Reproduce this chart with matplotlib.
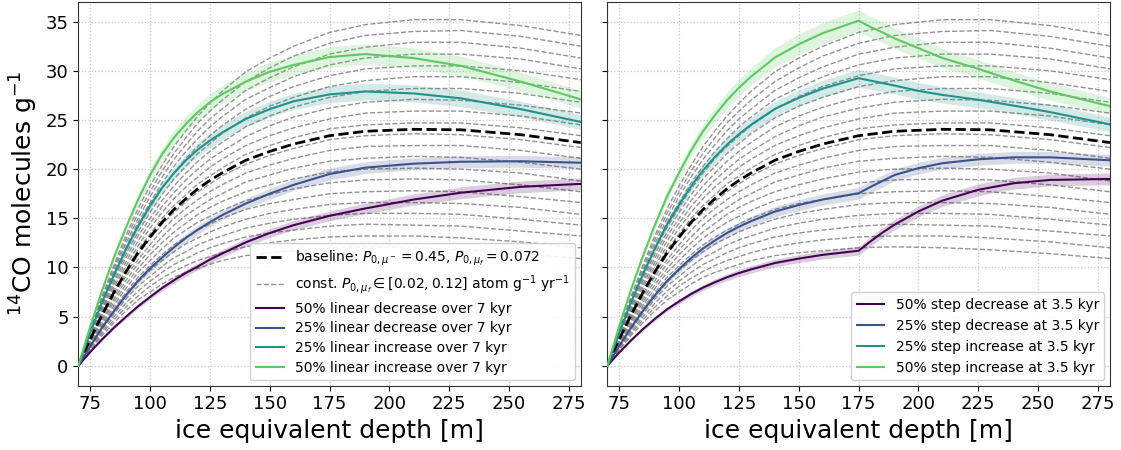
import matplotlib
matplotlib.use("Agg")
import matplotlib.pyplot as plt

# ---------------- data ----------------
depth = [70, 75, 80, 85, 90, 95, 100, 105, 110, 115, 120, 125, 130, 140, 150, 160, 175, 190, 210, 230, 255, 280]

baseline = [0, 2.7, 5.2, 7.5, 9.6, 11.5, 13.1, 14.6, 15.9, 17.0, 18.0, 18.85, 19.6, 20.9, 21.8, 22.55,
            23.4, 23.85, 24.05, 24.0, 23.5, 22.7]

gray_P = [0.02, 0.025, 0.03, 0.035, 0.04, 0.045, 0.05, 0.055, 0.06, 0.065, 0.07,
          0.075, 0.08, 0.085, 0.09, 0.095, 0.10, 0.105, 0.11, 0.115, 0.12]
gray_curves = [
    [0, 1.6, 3.1, 4.4, 5.6, 6.7, 7.5, 8.3, 9.0, 9.5, 9.9, 10.3, 10.7, 11.2, 11.5, 11.7, 12.0, 12.1, 12.0, 11.8, 11.4, 10.9],
    [0, 1.7, 3.3, 4.7, 6.0, 7.1, 8.1, 8.9, 9.6, 10.2, 10.7, 11.1, 11.5, 12.1, 12.5, 12.8, 13.1, 13.2, 13.2, 13.0, 12.6, 12.0],
    [0, 1.8, 3.5, 5.0, 6.4, 7.6, 8.6, 9.5, 10.3, 10.9, 11.5, 12.0, 12.4, 13.1, 13.5, 13.8, 14.2, 14.4, 14.3, 14.2, 13.7, 13.2],
    [0, 1.9, 3.7, 5.3, 6.8, 8.1, 9.1, 10.1, 11.0, 11.6, 12.3, 12.8, 13.2, 14.0, 14.5, 14.9, 15.3, 15.5, 15.5, 15.4, 14.9, 14.3],
    [0, 2.0, 3.9, 5.6, 7.1, 8.5, 9.7, 10.7, 11.6, 12.4, 13.0, 13.6, 14.1, 14.9, 15.5, 15.9, 16.4, 16.6, 16.6, 16.5, 16.1, 15.4],
    [0, 2.1, 4.1, 5.9, 7.5, 9.0, 10.2, 11.3, 12.3, 13.1, 13.8, 14.4, 15.0, 15.9, 16.5, 16.9, 17.5, 17.7, 17.8, 17.7, 17.2, 16.6],
    [0, 2.2, 4.3, 6.2, 7.9, 9.5, 10.7, 11.9, 13.0, 13.8, 14.6, 15.2, 15.8, 16.8, 17.4, 18.0, 18.6, 18.9, 19.0, 18.9, 18.4, 17.7],
    [0, 2.4, 4.5, 6.5, 8.3, 9.9, 11.3, 12.5, 13.6, 14.5, 15.4, 16.1, 16.7, 17.7, 18.4, 19.0, 19.7, 20.0, 20.1, 20.0, 19.6, 18.8],
    [0, 2.5, 4.7, 6.8, 8.7, 10.4, 11.8, 13.1, 14.3, 15.3, 16.1, 16.9, 17.5, 18.7, 19.4, 20.1, 20.8, 21.1, 21.3, 21.2, 20.7, 20.0],
    [0, 2.6, 4.9, 7.1, 9.1, 10.8, 12.3, 13.8, 15.0, 16.0, 16.9, 17.7, 18.4, 19.6, 20.4, 21.1, 21.9, 22.3, 22.4, 22.4, 21.9, 21.1],
    [0, 2.7, 5.1, 7.4, 9.4, 11.3, 12.9, 14.4, 15.6, 16.7, 17.7, 18.5, 19.3, 20.5, 21.4, 22.1, 23.0, 23.4, 23.6, 23.5, 23.0, 22.2],
    [0, 2.8, 5.3, 7.7, 9.8, 11.8, 13.4, 15.0, 16.3, 17.4, 18.5, 19.3, 20.1, 21.5, 22.4, 23.2, 24.1, 24.5, 24.7, 24.7, 24.2, 23.4],
    [0, 2.9, 5.5, 8.0, 10.2, 12.2, 14.0, 15.6, 17.0, 18.2, 19.2, 20.2, 21.0, 22.4, 23.4, 24.2, 25.1, 25.7, 25.9, 25.9, 25.4, 24.5],
    [0, 3.0, 5.7, 8.3, 10.6, 12.7, 14.5, 16.2, 17.6, 18.9, 20.0, 21.0, 21.8, 23.3, 24.4, 25.3, 26.2, 26.8, 27.1, 27.0, 26.5, 25.7],
    [0, 3.1, 5.9, 8.6, 11.0, 13.2, 15.0, 16.8, 18.3, 19.6, 20.8, 21.8, 22.7, 24.3, 25.4, 26.3, 27.3, 27.9, 28.2, 28.2, 27.7, 26.8],
    [0, 3.2, 6.1, 8.9, 11.4, 13.6, 15.6, 17.4, 19.0, 20.3, 21.6, 22.6, 23.6, 25.2, 26.4, 27.3, 28.4, 29.0, 29.4, 29.4, 28.8, 27.9],
    [0, 3.3, 6.3, 9.2, 11.8, 14.1, 16.1, 18.0, 19.6, 21.1, 22.3, 23.4, 24.4, 26.1, 27.4, 28.4, 29.5, 30.2, 30.5, 30.5, 30.0, 29.1],
    [0, 3.4, 6.5, 9.4, 12.1, 14.6, 16.6, 18.6, 20.3, 21.8, 23.1, 24.3, 25.3, 27.1, 28.3, 29.4, 30.6, 31.3, 31.7, 31.7, 31.2, 30.2],
    [0, 3.5, 6.7, 9.7, 12.5, 15.0, 17.2, 19.2, 21.0, 22.5, 23.9, 25.1, 26.1, 28.0, 29.3, 30.4, 31.7, 32.4, 32.9, 32.9, 32.3, 31.3],
    [0, 3.6, 6.9, 10.0, 12.9, 15.5, 17.7, 19.8, 21.6, 23.2, 24.7, 25.9, 27.0, 28.9, 30.3, 31.5, 32.8, 33.6, 34.0, 34.1, 33.5, 32.5],
    [0, 3.7, 7.1, 10.3, 13.3, 16.0, 18.3, 20.4, 22.3, 23.9, 25.4, 26.7, 27.9, 29.9, 31.3, 32.5, 33.9, 34.7, 35.2, 35.2, 34.6, 33.6],
]

# left panel: linear change over 7 kyr (same depth grid)
lin_labels = ["50% linear decrease over 7 kyr", "25% linear decrease over 7 kyr",
              "25% linear increase over 7 kyr", "50% linear increase over 7 kyr"]
lin_purple = [0, 1.4, 2.7, 3.9, 5.0, 6.05, 7.0, 7.9, 8.7, 9.45, 10.1, 10.8, 11.4, 12.55, 13.5, 14.3,
              15.25, 16.0, 16.9, 17.6, 18.2, 18.5]
lin_blue = [0, 2.0, 3.9, 5.6, 7.2, 8.65, 9.9, 11.0, 12.05, 13.0, 13.85, 14.6, 15.3, 16.5, 17.5, 18.4,
            19.5, 20.15, 20.55, 20.75, 20.8, 20.65]
lin_teal = [0, 3.4, 6.5, 9.3, 11.9, 14.2, 16.3, 18.1, 19.6, 20.9, 22.0, 22.9, 23.7, 25.1, 26.1, 26.9,
            27.6, 27.9, 27.7, 27.2, 26.1, 24.8]
lin_green = [0, 4.0, 7.7, 11.1, 14.1, 16.9, 19.4, 21.5, 23.2, 24.6, 25.8, 26.8, 27.6, 28.9, 29.9, 30.6,
             31.4, 31.7, 31.3, 30.5, 28.9, 27.1]
lin_purple_err = [0, 0.05, 0.1, 0.15, 0.2, 0.22, 0.25, 0.28, 0.3, 0.33, 0.35, 0.37, 0.39, 0.42, 0.45, 0.47,
                  0.5, 0.53, 0.57, 0.6, 0.6, 0.6]
lin_blue_err = [0, 0.05, 0.1, 0.2, 0.25, 0.3, 0.35, 0.37, 0.4, 0.43, 0.45, 0.47, 0.48, 0.52, 0.55, 0.57,
                0.6, 0.6, 0.6, 0.6, 0.6, 0.6]
lin_teal_err = [0, 0.1, 0.2, 0.3, 0.35, 0.43, 0.5, 0.55, 0.6, 0.65, 0.7, 0.72, 0.74, 0.77, 0.8, 0.82,
                0.85, 0.85, 0.85, 0.85, 0.8, 0.75]
lin_green_err = [0, 0.1, 0.2, 0.35, 0.45, 0.53, 0.6, 0.68, 0.75, 0.8, 0.85, 0.88, 0.9, 0.97, 1.0, 1.02,
                 1.05, 1.05, 1.03, 1.0, 0.95, 0.9]

# right panel: step change at 3.5 kyr
depth_step = [70, 75, 80, 85, 90, 95, 100, 105, 110, 115, 120, 125, 130, 140, 150, 160, 175,
              180, 185, 190, 200, 210, 225, 240, 255, 280]
step_labels = ["50% step decrease at 3.5 kyr", "25% step decrease at 3.5 kyr",
               "25% step increase at 3.5 kyr", "50% step increase at 3.5 kyr"]
step_purple = [0, 1.35, 2.6, 3.75, 4.8, 5.75, 6.55, 7.3, 7.95, 8.5, 9.0, 9.43, 9.8, 10.45, 10.9, 11.28, 11.7,
               12.66, 13.55, 14.35, 15.7, 16.8, 17.9, 18.57, 18.9, 19.0]
step_blue = [0, 2.03, 3.9, 5.63, 7.2, 8.63, 9.83, 10.95, 11.93, 12.75, 13.5, 14.14, 14.7, 15.68, 16.35, 16.91, 17.55,
             18.2, 18.8, 19.4, 20.1, 20.6, 21.0, 21.2, 21.2, 20.9]
step_teal = [0, 3.38, 6.5, 9.38, 12.0, 14.38, 16.38, 18.25, 19.88, 21.25, 22.5, 23.56, 24.5, 26.13, 27.25, 28.19, 29.25,
             29.0, 28.75, 28.5, 27.95, 27.55, 27.05, 26.45, 25.8, 24.55]
step_green = [0, 4.05, 7.8, 11.25, 14.4, 17.25, 19.65, 21.9, 23.85, 25.5, 27.0, 28.28, 29.4, 31.35, 32.7, 33.83, 35.1,
              34.45, 33.9, 33.3, 32.3, 31.3, 30.2, 29.0, 27.9, 26.4]
step_purple_err = [0, 0.05, 0.1, 0.15, 0.2, 0.22, 0.25, 0.28, 0.3, 0.32, 0.35, 0.37, 0.38, 0.4, 0.4, 0.42, 0.45,
                   0.48, 0.5, 0.52, 0.55, 0.6, 0.6, 0.6, 0.6, 0.6]
step_blue_err = [0, 0.05, 0.1, 0.2, 0.25, 0.3, 0.35, 0.37, 0.4, 0.43, 0.45, 0.47, 0.48, 0.52, 0.55, 0.57, 0.6,
                 0.6, 0.6, 0.6, 0.6, 0.6, 0.6, 0.6, 0.6, 0.6]
step_teal_err = [0, 0.1, 0.2, 0.3, 0.35, 0.43, 0.5, 0.55, 0.6, 0.65, 0.7, 0.72, 0.74, 0.77, 0.8, 0.85, 0.9,
                 0.88, 0.87, 0.86, 0.85, 0.83, 0.8, 0.8, 0.8, 0.75]
step_green_err = [0, 0.1, 0.2, 0.35, 0.45, 0.53, 0.6, 0.68, 0.75, 0.8, 0.85, 0.88, 0.9, 0.97, 1.05, 1.08, 1.1,
                  1.08, 1.05, 1.03, 1.0, 0.97, 0.93, 0.9, 0.9, 0.85]

colors = ["#440154", "#3b528b", "#21918c", "#5ec962"]
xticks = [75, 100, 125, 150, 175, 200, 225, 250, 275]
yticks = [0, 5, 10, 15, 20, 25, 30, 35]

# ---------------- figure ----------------
W, H = 1121, 450
fig = plt.figure(figsize=(W / 100, H / 100), dpi=100)
bottom = 1 - 385.7 / H
height = (385.7 - 1.7) / H
ax1 = fig.add_axes([78.3 / W, bottom, (580.7 - 78.3) / W, height])
ax2 = fig.add_axes([607.3 / W, bottom, (1110.0 - 607.3) / W, height], sharey=ax1)


def draw(ax, xs, series, errs, labels):
    for i, c in enumerate(gray_curves):
        ax.plot(depth, c, ls="--", color="gray", lw=1.0, alpha=0.85, zorder=2,
                label=(r"const. $P_{0,\mu_f}\in[0.02, 0.12]$ atom g$^{-1}$ yr$^{-1}$" if i == 0 else None))
    ax.plot(depth, baseline, ls="--", color="black", lw=2.0, zorder=4,
            label=r"baseline: $P_{0,\mu^-}=0.45$, $P_{0,\mu_f}=0.072$")
    for ys, es, col, lab in zip(series, errs, colors, labels):
        lo = [y - e for y, e in zip(ys, es)]
        hi = [y + e for y, e in zip(ys, es)]
        ax.fill_between(xs, lo, hi, color=col, alpha=0.2, lw=0, zorder=3)
        ax.plot(xs, ys, color=col, lw=1.5, zorder=5, label=lab)
    ax.set_xlim(70, 280)
    ax.set_ylim(-2.03, 37.03)
    ax.set_xticks(xticks)
    ax.set_yticks(yticks)
    ax.grid(True, ls=":", color="#c8c8c8", lw=0.9)
    ax.set_axisbelow(True)
    ax.tick_params(labelsize=13)
    ax.set_xlabel("ice equivalent depth [m]", fontsize=18)
    for s in ax.spines.values():
        s.set_color("#333333")


draw(ax1, depth, [lin_purple, lin_blue, lin_teal, lin_green],
     [lin_purple_err, lin_blue_err, lin_teal_err, lin_green_err], lin_labels)
draw(ax2, depth_step, [step_purple, step_blue, step_teal, step_green],
     [step_purple_err, step_blue_err, step_teal_err, step_green_err], step_labels)

ax1.set_ylabel(r"$^{14}$CO molecules g$^{-1}$", fontsize=18)
plt.setp(ax2.get_yticklabels(), visible=False)

h, l = ax1.get_legend_handles_labels()
order = [1, 0, 2, 3, 4, 5]
ax1.legend([h[i] for i in order], [l[i] for i in order], loc="lower right", fontsize=10,
           framealpha=0.9, borderaxespad=0.4, labelspacing=0.4)
h2, l2 = ax2.get_legend_handles_labels()
ax2.legend(h2[2:], l2[2:], loc="lower right", fontsize=10, framealpha=0.9, borderaxespad=0.4)

fig.savefig("out.png", dpi=100)
